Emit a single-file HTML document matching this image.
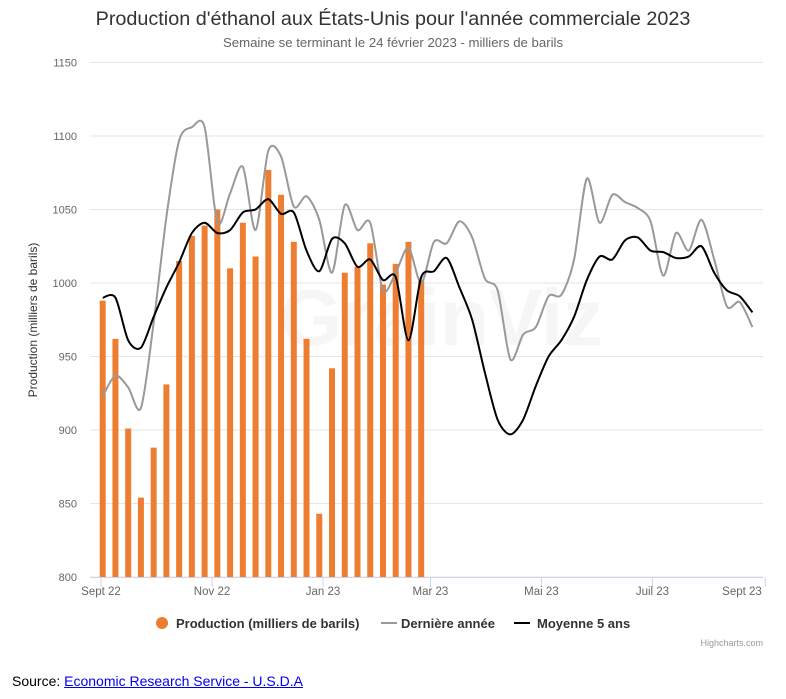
<!DOCTYPE html>
<html><head><meta charset="utf-8"><style>
body{margin:0;background:#fff;font-family:"Liberation Sans",sans-serif;}
svg{display:block}
.src{position:absolute;left:12px;top:673px;font-size:14px;color:#000}
.src a{color:#0000ee;text-decoration:underline}
</style></head><body>
<div style="position:relative;width:786px;height:699px">
<svg id="chart" width="786" height="665" xmlns="http://www.w3.org/2000/svg" font-family="Liberation Sans, sans-serif">
<text x="393" y="25" text-anchor="middle" font-size="19.8" fill="#333">Production d'éthanol aux États-Unis pour l'année commerciale 2023</text>
<text x="393" y="47" text-anchor="middle" font-size="13.2" fill="#666">Semaine se terminant le 24 février 2023 - milliers de barils</text>
<g id="grid"></g>
<text x="280" y="345" font-size="80" font-weight="bold" fill="#000" opacity="0.03">GrainViz</text>
<g id="bars"></g>
<g id="lines"></g>
<g id="xaxis"></g>
<text transform="translate(37,320) rotate(-90)" text-anchor="middle" font-size="12" fill="#333">Production (milliers de barils)</text>
<g>
 <g><circle cx="162" cy="623" r="6" fill="#ED7D31"/><text x="176" y="628" font-size="13" font-weight="bold" fill="#333">Production (milliers de barils)</text></g>
 <g><line x1="381" y1="623" x2="397" y2="623" stroke="#999" stroke-width="2"/><text x="401" y="628" font-size="13" font-weight="bold" fill="#333">Dernière année</text></g>
 <g><line x1="514" y1="623" x2="530" y2="623" stroke="#000" stroke-width="2"/><text x="537" y="628" font-size="13" font-weight="bold" fill="#333">Moyenne 5 ans</text></g>
</g>
<text x="763" y="646" text-anchor="end" font-size="9" fill="#999">Highcharts.com</text>
</svg>
<div class="src">Source: <a>Economic Research Service - U.S.D.A</a></div>
</div>
<script>
const yTicks=[800,850,900,950,1000,1050,1100,1150];
const xTickLabels=["Sept 22","Nov 22","Jan 23","Mar 23","Mai 23","Juil 23","Sept 23"];
const xTickDays=[0,61,122,181,242,303,365];
const production=[988,962,901,854,888,931,1015,1032,1039,1050,1010,1041,1018,1077,1060,1028,962,843,942,1007,1011,1027,999,1013,1028,1002];
const lastYear=[923,937,929,915,973,1045,1097,1106,1106,1041,1061,1079,1036,1090,1086,1052,1059,1043,1007,1053,1036,1041,995,1007,1024,1000,1028,1027,1042,1031,1003,995,948,965,970,991,992,1016,1071,1041,1060,1055,1051,1042,1005,1034,1022,1043,1016,984,987,970];
const avg5=[990,990,961,956,977,997,1014,1034,1041,1034,1036,1048,1050,1057,1047,1048,1022,1008,1030,1027,1011,1016,1002,1004,961,1004,1008,1017,997,975,939,907,897,907,930,950,961,977,1002,1018,1016,1029,1031,1022,1021,1017,1018,1025,1007,995,991,980];
const NS="http://www.w3.org/2000/svg";
const x0=101,pxDay=1.82,xFirst=102.7,weekPx=12.74;
const yTop=62.5,yBot=577;
function yPos(v){return yBot-(v-800)/(1150-800)*(yBot-yTop);}
function xDay(d){return x0+d*pxDay;}
function xWeek(i){return xFirst+i*weekPx;}
function mk(tag,attrs,parent){const e=document.createElementNS(NS,tag);for(const k in attrs)e.setAttribute(k,attrs[k]);parent.appendChild(e);return e;}
const grid=document.getElementById('grid');
yTicks.forEach(t=>{
 const l=mk('line',{x1:90,x2:763,y1:yPos(t),y2:yPos(t),stroke:'#e6e6e6','stroke-width':1},grid);
 
 
 const tx=mk('text',{x:77,y:yPos(t)+4,'text-anchor':'end','font-size':11,fill:'#666'},grid);
 tx.textContent=t;
 
 
});
const xa=document.getElementById('xaxis');
const axl=mk('line',{x1:90,x2:763,y1:577.5,y2:577.5,stroke:'#ccd6eb','stroke-width':1},xa);


xTickLabels.forEach((lab,i)=>{
 const x=xDay(xTickDays[i]);
 const tk=mk('line',{x1:x,x2:x,y1:577,y2:587,stroke:'#ccd6eb'},xa);
 
 
 const tx=mk('text',{x:Math.min(x,742),y:595,'text-anchor':'middle','font-size':11.5,fill:'#666'},xa);
 tx.textContent=lab;
 
 
});
const bars=document.getElementById('bars');
production.forEach((v,i)=>{
 const r=mk('rect',{x:xWeek(i)-3,y:yPos(v),width:6,height:yBot-yPos(v),fill:'#ED7D31'},bars);
 
 
});
function spline(vals){
 const p=vals.map((v,i)=>[xWeek(i),yPos(v)]);
 let d='M'+p[0][0]+','+p[0][1];
 for(let i=0;i<p.length-1;i++){
  const a=p[Math.max(0,i-1)],b=p[i],c=p[i+1],e=p[Math.min(p.length-1,i+2)];
  const c1=[b[0]+(c[0]-a[0])/7,b[1]+(c[1]-a[1])/7];
  const c2=[c[0]-(e[0]-b[0])/7,c[1]-(e[1]-b[1])/7];
  d+=' C'+c1[0]+','+c1[1]+' '+c2[0]+','+c2[1]+' '+c[0]+','+c[1];
 }
 return d;
}
const lines=document.getElementById('lines');
const ly=mk('path',{d:spline(lastYear),fill:'none',stroke:'#999','stroke-width':2},lines);


const av=mk('path',{d:spline(avg5),fill:'none',stroke:'#000','stroke-width':2},lines);


</script>
</body></html>
